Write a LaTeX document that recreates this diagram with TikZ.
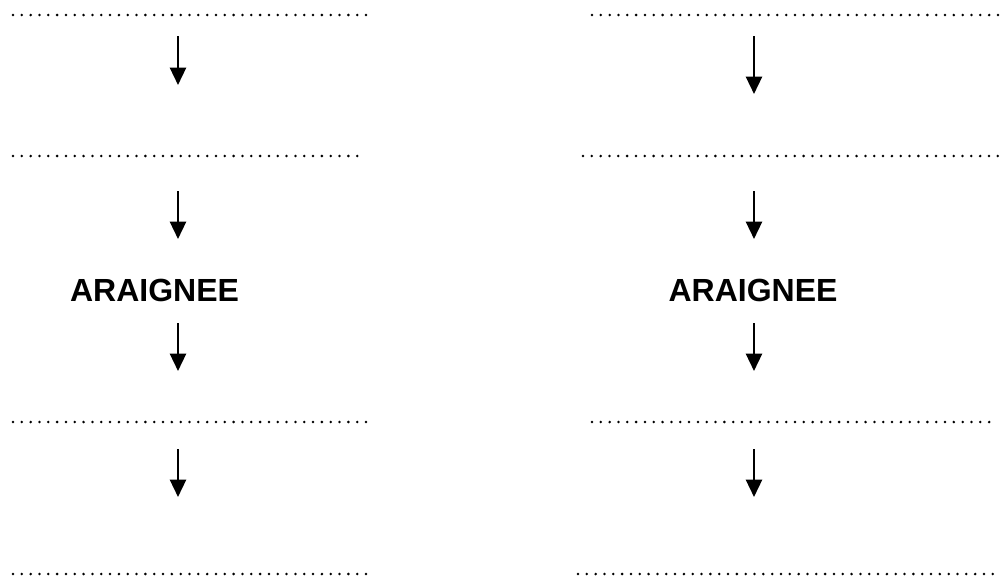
\documentclass[tikz,border=0pt]{standalone}
\usepackage{fontspec}
\setmainfont{Liberation Sans}
\usetikzlibrary{arrows.meta}
\begin{document}
\begin{tikzpicture}[x=0.75pt,y=-0.75pt,
  dotline/.style={line width=2.1pt,line cap=round,dash pattern=on 0pt off 6.619pt},
  flow/.style={line width=1.8pt,-{Triangle[width=12pt,length=13pt]}},
  label/.style={font=\bfseries\fontsize{24pt}{28pt}\selectfont,anchor=base,inner sep=0pt}]
\useasboundingbox (0,0) rectangle (1000,576);
% blank lines (left)
\coordinate (l1a) at (13,15);  \coordinate (l1b) at (367,15);
\coordinate (l2a) at (13,156); \coordinate (l2b) at (358,156);
\coordinate (l4a) at (13,422); \coordinate (l4b) at (367,422);
\coordinate (l5a) at (13,574); \coordinate (l5b) at (367,574);
% blank lines (right)
\coordinate (r1a) at (592,15);  \coordinate (r1b) at (999,15);
\coordinate (r2a) at (583,156); \coordinate (r2b) at (999,156);
\coordinate (r4a) at (592,422); \coordinate (r4b) at (990,422);
\coordinate (r5a) at (578,574); \coordinate (r5b) at (994,574);
\foreach \n in {l1,l2,l4,l5,r1,r2,r4,r5}{\draw[dotline] (\n a) -- (\n b);}
% labels
\node[label] (lspider) at (154.5,301) {ARAIGNEE};
\node[label] (rspider) at (753,301) {ARAIGNEE};
% arrow ends
\coordinate (la1s) at (178,36);  \coordinate (la1e) at (178,85);
\coordinate (la2s) at (178,191); \coordinate (la2e) at (178,239);
\coordinate (la3s) at (178,323); \coordinate (la3e) at (178,371);
\coordinate (la4s) at (178,449); \coordinate (la4e) at (178,497);
\coordinate (ra1s) at (754,36);  \coordinate (ra1e) at (754,94);
\coordinate (ra2s) at (754,191); \coordinate (ra2e) at (754,239);
\coordinate (ra3s) at (754,323); \coordinate (ra3e) at (754,371);
\coordinate (ra4s) at (754,449); \coordinate (ra4e) at (754,497);
\foreach \n in {la1,la2,la3,la4,ra1,ra2,ra3,ra4}{\draw[flow] (\n s) -- (\n e);}
\end{tikzpicture}
\end{document}
